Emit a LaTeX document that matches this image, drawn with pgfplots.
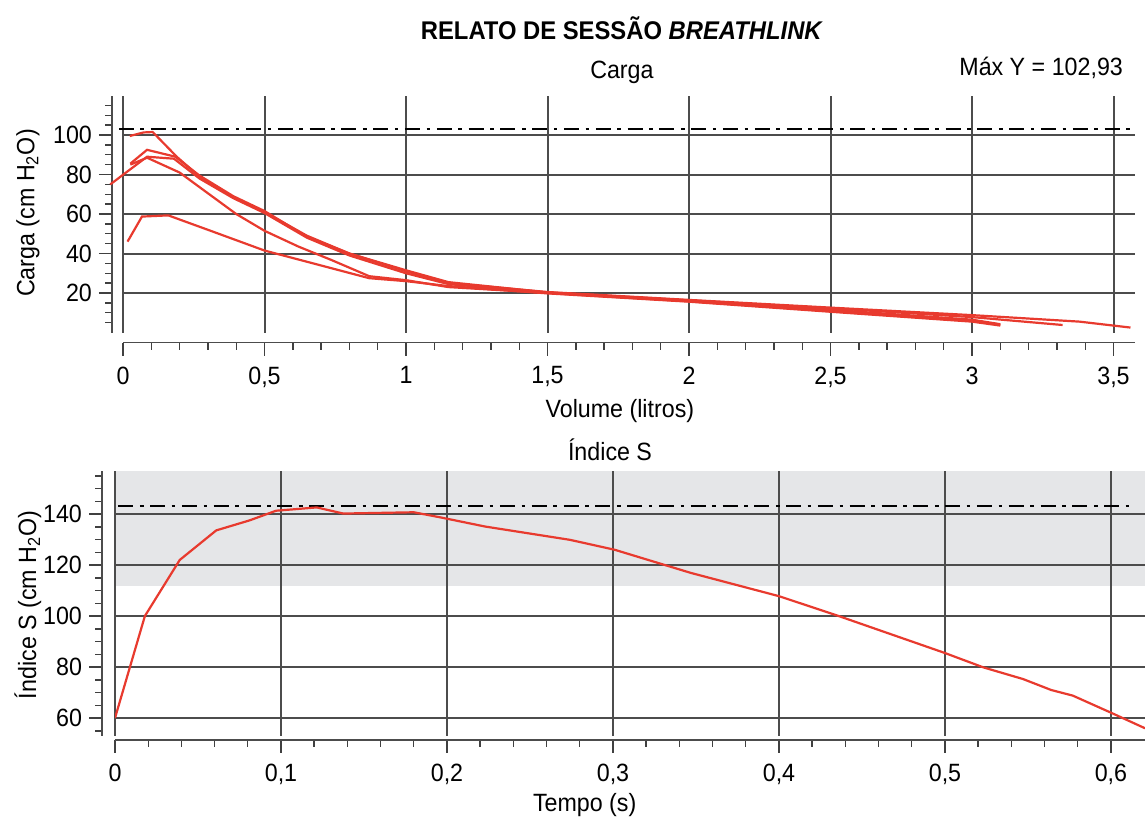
\documentclass[border=0pt]{standalone}
\usepackage{pgfplots}
\pgfplotsset{compat=1.18}
\usepackage{fontspec}
\setmainfont{Liberation Sans}[FakeStretch=0.93]
\definecolor{linered}{RGB}{232,58,46}
\definecolor{bandgray}{RGB}{229,230,232}

\pgfplotsset{
  breath/.style={
    scale only axis,
    anchor=south west,
    axis x line*=bottom, axis y line*=left,
    set layers,
    grid=major,
    major grid style={black!70, line width=1pt},
    axis line style={black!70, line width=0.9pt},
    tick style={black!75, line width=0.7pt},
    tick align=outside,
    major tick length=6.5pt,
    minor tick length=3.5pt,
    every axis title shift=0pt,
    tick label style={font=\fontsize{12.5}{14}\selectfont},
    label style={font=\fontsize{12.5}{14}\selectfont},
    title style={font=\fontsize{12.5}{14}\selectfont},
    /pgf/number format/assume math mode=true,
    /pgf/number format/use comma,
    xticklabel style={/pgf/number format/fixed},
  },
  curve/.style={linered, line width=1.1pt, no markers},
  maxline/.style={black, line width=1.2pt, no markers, dash pattern=on 7.5pt off 3.3pt on 1.8pt off 3.3pt},
}

\begin{document}
\begin{tikzpicture}

\node[font=\fontsize{12.8}{15}\selectfont\bfseries] at (311pt,396.5pt)
  {RELATO DE SESSÃO \textit{BREATHLINK}};

% Carga
\begin{axis}[breath,
  at={(61.5pt,244.25pt)},
  width=506pt, height=118.5pt,
  xmin=0, xmax=3.576, ymin=0, ymax=120,
  clip=false,
  axis x line shift=5pt, axis y line shift=5.5pt,
  xtick={0,0.5,...,3.5},
  minor xtick={0.1,0.2,0.3,0.4,0.6,0.7,0.8,0.9,1.1,1.2,1.3,1.4,1.6,1.7,1.8,1.9,2.1,2.2,2.3,2.4,2.6,2.7,2.8,2.9,3.1,3.2,3.3,3.4,3.5},
  ytick={20,40,...,100},
  minor ytick={5,10,...,115},
  x tick label style={yshift=-2pt},
  xlabel={Volume (litros)},
  ylabel={Carga (cm H\textsubscript{2}O)},
  xlabel style={at={(axis description cs:0.491,-0.331)}, anchor=center},
  ylabel style={at={(axis description cs:-0.094,0.504)}, anchor=center},
  title={Carga},
  title style={at={(axis description cs:0.493,1.099)}, anchor=center},
]
\addplot[maxline] coordinates {(-0.015,103) (3.57,103)};
\addplot[curve] coordinates {(0.024,99.5) (0.073,101.3) (0.105,101.5) (0.19,89) (0.273,78.5) (0.39,68.5) (0.5,61) (0.65,49) (0.8,40) (1.0,31.5) (1.15,25.5) (1.5,20.3) (2.0,16.3) (2.5,12.3) (3.0,7.8) (3.32,3.8)};
\addplot[curve] coordinates {(0.026,85.5) (0.085,92.5) (0.185,89) (0.27,79.5) (0.39,69) (0.5,61.5) (0.65,48.5) (0.8,40) (1.0,31) (1.15,25) (1.5,20.5) (2.0,16.5) (2.5,12.6) (3.0,8.8) (3.38,5.5) (3.56,2.5)};
\addplot[curve] coordinates {(-0.045,75) (0.085,89) (0.18,88) (0.27,78) (0.39,68) (0.5,60.5) (0.65,48) (0.8,39) (1.0,30) (1.15,24.5) (1.5,20.2) (2.0,16) (2.5,11.5) (3.0,6.5) (3.1,4.2)};
\addplot[curve] coordinates {(0.026,85) (0.085,88.5) (0.2,81) (0.3,70.5) (0.4,60) (0.5,51.5) (0.62,43.5) (0.74,36.5) (0.87,28.5) (1.0,26.5) (1.15,23) (1.5,20) (2.0,15.8) (2.5,10.8) (3.0,5.8) (3.1,4)};
\addplot[curve] coordinates {(0.016,46) (0.067,58.7) (0.16,59.3) (0.3,52) (0.5,41.5) (0.87,27.5) (1.0,26) (1.15,23.5) (1.5,19.8) (2.0,15.6) (2.5,10.5) (3.0,5.5) (3.1,3.5)};
\node[anchor=east, font=\fontsize{12.5}{14}\selectfont] at (rel axis cs:0.995,1.116) {Máx Y = 102,93};
\end{axis}

% Indice S
\begin{axis}[breath,
  at={(57.5pt,42.55pt)},
  width=515pt, height=132.6pt,
  xmin=0, xmax=0.6205, ymin=53, ymax=157,
  axis x line shift=2pt, axis y line shift=6.5pt,
  xtick={0,0.1,...,0.6},
  minor x tick num=4,
  ytick={60,80,...,140},
  minor ytick={55,60,...,155},
  x tick label style={yshift=-2pt},
  xlabel={Tempo (s)},
  ylabel={Índice S (cm H\textsubscript{2}O)},
  xlabel style={at={(axis description cs:0.456,-0.261)}, anchor=center},
  ylabel style={at={(axis description cs:-0.0845,0.494)}, anchor=center},
  title={Índice S},
  title style={at={(axis description cs:0.4806,1.078)}, anchor=center},
]
\addplot[fill=bandgray, draw=none, no markers, on layer=axis background] coordinates {(0,111.7) (0.6205,111.7) (0.6205,157) (0,157)} -- cycle;
\addplot[maxline] coordinates {(0.002,143.2) (0.612,143.2)};
\addplot[curve] coordinates {(0,60) (0.018,100) (0.039,122) (0.061,133.6) (0.081,137.5) (0.097,141.3) (0.1215,142.6) (0.1375,140.2) (0.18,140.7) (0.196,138.7) (0.223,135.1) (0.274,129.9) (0.301,126) (0.347,116.9) (0.4,107.8) (0.436,100) (0.5,85.5) (0.523,79.9) (0.547,75.3) (0.564,71) (0.577,68.8) (0.6,62.1) (0.6205,56)};
\node[anchor=east, font=\fontsize{12.5}{14}\selectfont] at (rel axis cs:0.985,1.078) {Máx Y = 142,21};
\end{axis}

\pgfresetboundingbox
\path[use as bounding box] (0,0) rectangle (572.5pt,410.5pt);
\end{tikzpicture}
\end{document}
